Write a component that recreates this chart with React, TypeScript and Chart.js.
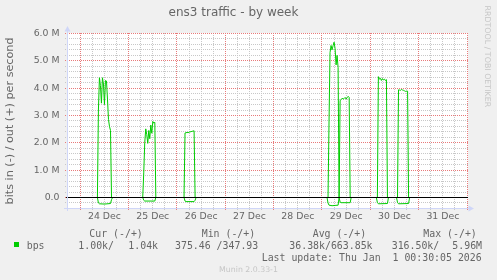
import React, { useEffect, useRef } from "react";
import { Chart, registerables } from "chart.js";

Chart.register(...registerables);

// ---------------- data ----------------
const chartTitle = "ens3 traffic - by week";
const yAxisTitle = "bits in (-) / out (+) per second";

// x values are hours since 24 Dec 00:00
const xRangeHours = [-6.6, 192];
const dayLabelHours = [12, 36, 60, 84, 108, 132, 156, 180];
const dayLabels = ["24 Dec", "25 Dec", "26 Dec", "27 Dec", "28 Dec", "29 Dec", "30 Dec", "31 Dec"];

// y values are Mbit/s
const yRangeMbps = [-0.4, 6];
const yTickValues = [0, 1, 2, 3, 4, 5, 6];
const yTickLabels = ["0.0", "1.0 M", "2.0 M", "3.0 M", "4.0 M", "5.0 M", "6.0 M"];

// "out" series (+)
const outHours = [
  -6.5, 8.5, 9.0, 9.5, 10.0, 10.5, 11.0, 11.5, 12.0, 12.5, 13.0, 13.5, 14.0, 14.5, 15.0, 15.5,
  31.0, 31.5, 32.0, 32.5, 33.0, 33.5, 34.0, 34.5, 35.0, 35.5, 36.0, 36.5, 37.0, 37.5,
  51.5, 52.0, 52.5, 53.0, 53.5, 54.0, 54.5, 55.0, 55.5, 56.0, 56.5, 57.0,
  123.0, 123.5, 124.0, 124.5, 125.0, 125.5, 126.0, 126.5, 127.0, 127.5, 128.0, 128.5,
  129.0, 129.5, 130.0, 130.5, 131.0, 131.5, 132.0, 132.5, 133.0, 133.5, 134.0,
  147.5, 148.0, 148.5, 149.0, 149.5, 150.0, 150.5, 151.0, 151.5, 152.0, 152.5,
  157.5, 158.0, 158.5, 159.0, 159.5, 160.0, 160.5, 161.0, 161.5, 162.0, 162.5, 163.0,
  192.0,
];
const outMbps = [
  0, 0, 3.2, 4.38, 4.1, 3.45, 4.38, 4.15, 3.4, 4.28, 4.26, 3.6, 2.85, 2.6, 2.45, 0,
  0, 0.9, 2.0, 2.51, 2.3, 1.98, 2.45, 2.15, 2.65, 2.35, 2.78, 2.72, 2.75, 0,
  0, 2.36, 2.37, 2.38, 2.37, 2.39, 2.4, 2.41, 2.42, 2.43, 2.44, 0,
  0, 2.8, 5.3, 5.56, 5.4, 5.55, 5.68, 5.45, 4.85, 5.2, 4.75, 0,
  3.55, 3.58, 3.63, 3.6, 3.62, 3.66, 3.6, 3.65, 3.7, 3.66, 0,
  0, 4.42, 4.33, 4.36, 4.28, 4.35, 4.3, 4.33, 4.28, 4.31, 0,
  0, 3.94, 3.93, 3.92, 3.95, 3.93, 3.92, 3.9, 3.88, 3.89, 3.89, 0,
  0,
];

// "in" series (-)
const inHours = [
  -6.5, 8.5, 9.0, 9.5, 12.0, 15.0, 15.5, 16.0,
  31.0, 31.5, 32.0, 37.0, 37.5,
  51.5, 52.0, 52.5, 56.5, 57.0, 57.5,
  122.5, 123.0, 123.5, 125.0, 126.5, 128.0, 128.5,
  129.0, 129.5, 134.0, 134.5,
  147.0, 147.5, 148.0, 152.5, 153.0,
  157.0, 157.5, 158.0, 163.0, 163.5,
  192.0,
];
const inMbps = [
  0, 0, -0.2, -0.23, -0.24, -0.22, -0.08, 0,
  0, -0.1, -0.13, -0.13, 0,
  0, -0.13, -0.15, -0.15, -0.1, 0,
  0, -0.2, -0.28, -0.3, -0.29, -0.28, 0,
  -0.17, -0.19, -0.19, 0,
  0, -0.18, -0.23, -0.22, 0,
  0, -0.18, -0.23, -0.22, 0,
  0,
];

const seriesName = "bps";
const legendHeaders = ["Cur (-/+)", "Min (-/+)", "Avg (-/+)", "Max (-/+)"];
const legendValues = ["1.00k/", "1.04k", "375.46 /347.93", "36.38k/663.85k", "316.50k/", "5.96M"];
const lastUpdate = "Last update: Thu Jan  1 00:30:05 2026";
const watermark = "RRDTOOL / TOBI OETIKER";
const versionText = "Munin 2.0.33-1";

// ---------------- styling ----------------
const LINE_GREEN = "#00cc00";
const FONT_COLOR = "#666666";
const AXIS_COLOR = "#CFD6F8";
const MINOR_GRID = "rgb(200,200,200)";
const MAJOR_GRID = "rgb(232,122,122)";
const SANS = "'DejaVu Sans', sans-serif";
const MONO = "'DejaVu Sans Mono', monospace";

const isMultiple = (v: number, step: number) => {
  const r = v / step;
  return Math.abs(r - Math.round(r)) < 1e-6;
};

// 1px dotted lines (1 on / 1 off), like rrdtool's grid
const dottedH = (ctx: CanvasRenderingContext2D, x1: number, x2: number, y: number) => {
  for (let x = x1; x <= x2; x += 2) ctx.fillRect(x, y, 1, 1);
};
const dottedV = (ctx: CanvasRenderingContext2D, x: number, y1: number, y2: number) => {
  for (let y = y1; y <= y2; y += 2) ctx.fillRect(x, y, 1, 1);
};

const muninPlugin = {
  id: "munin",
  beforeDraw(chart: any) {
    const { ctx, chartArea: a } = chart;
    ctx.save();
    ctx.fillStyle = "#f0f0f0";
    ctx.fillRect(0, 0, chart.width, chart.height);
    ctx.fillStyle = "#ffffff";
    const t = Math.floor(a.top);
    ctx.fillRect(Math.round(a.left), t, Math.round(a.right) - Math.round(a.left) + 1, Math.floor(a.bottom) - t + 1);
    ctx.restore();
  },
  beforeDatasetsDraw(chart: any) {
    // grid placed through the chart's own scales and ticks
    const { ctx, chartArea: a, scales } = chart;
    const xs = scales.x;
    const ys = scales.y;
    const top = Math.floor(a.top);
    const bottom = Math.floor(a.bottom);
    const left = Math.round(a.left);
    const right = Math.round(a.right);
    const xTicks: number[] = xs.ticks.map((t: any) => t.value);
    const yTicks: number[] = ys.ticks.map((t: any) => t.value);
    ctx.save();
    for (const major of [false, true]) {
      ctx.fillStyle = major ? MAJOR_GRID : MINOR_GRID;
      xTicks.forEach((v) => {
        if (isMultiple(v, 24) !== major) return;
        const px = Math.floor(xs.getPixelForValue(v));
        dottedV(ctx, px, top, bottom + 2);
      });
      yTicks.forEach((v) => {
        if (isMultiple(v, 1) !== major) return;
        const py = Math.floor(ys.getPixelForValue(v));
        dottedH(ctx, left - 2, right, py);
      });
    }
    ctx.restore();
  },
  afterDatasetsDraw(chart: any) {
    const { ctx, chartArea: a } = chart;
    const y0 = Math.floor(chart.scales.y.getPixelForValue(0));
    ctx.save();
    ctx.fillStyle = "#000000";
    ctx.fillRect(Math.round(a.left) - 1, y0, Math.round(a.right) - Math.round(a.left) + 2, 1);
    ctx.restore();
  },
  afterDraw(chart: any) {
    const { ctx, chartArea: a } = chart;
    ctx.save();
    // axes with arrows
    ctx.fillStyle = AXIS_COLOR;
    const ax = Math.round(a.left);
    const ay = Math.floor(a.bottom);
    const top = Math.floor(a.top);
    const right = Math.round(a.right);
    ctx.fillRect(ax, top - 3, 1, ay - top + 6);
    ctx.fillRect(ax - 3, ay, right - ax + 6, 1);
    ctx.beginPath();
    ctx.moveTo(ax - 2.5, top - 1.5);
    ctx.lineTo(ax + 3.5, top - 1.5);
    ctx.lineTo(ax + 0.5, top - 7);
    ctx.closePath();
    ctx.fill();
    ctx.beginPath();
    ctx.moveTo(right + 1.5, ay - 2.5);
    ctx.lineTo(right + 1.5, ay + 3.5);
    ctx.lineTo(right + 7, ay + 0.5);
    ctx.closePath();
    ctx.fill();

    // vertical watermark
    ctx.save();
    ctx.translate(485.3, 5.5);
    ctx.rotate(Math.PI / 2);
    ctx.font = `7.9px ${SANS}`;
    ctx.fillStyle = "#c6c6c6";
    ctx.textAlign = "left";
    ctx.textBaseline = "alphabetic";
    ctx.fillText(watermark, 0, 0);
    ctx.restore();

    // legend
    ctx.textAlign = "left";
    ctx.textBaseline = "alphabetic";
    ctx.font = `9.9px ${MONO}`;
    ctx.fillStyle = FONT_COLOR;
    const headerX = [89.3, 201.7, 312.7, 423.3];
    legendHeaders.forEach((t, i) => ctx.fillText(t, headerX[i], 237));
    ctx.fillStyle = LINE_GREEN;
    ctx.fillRect(14, 242, 5, 5);
    ctx.fillStyle = FONT_COLOR;
    ctx.fillText(seriesName, 26.7, 249);
    const valueX = [78.3, 128.3, 175, 289.3, 391.7, 452.3];
    legendValues.forEach((t, i) => ctx.fillText(t, valueX[i], 249));
    ctx.fillText(lastUpdate, 261.7, 261);

    ctx.font = `7.8px ${SANS}`;
    ctx.fillStyle = "#c6c6c6";
    ctx.textAlign = "center";
    ctx.fillText(versionText, 248.5, 271.5);
    ctx.restore();
  },
};

export default function App() {
  const ref = useRef<HTMLCanvasElement>(null);

  useEffect(() => {
    document.body.style.margin = "0";
    const canvas = ref.current;
    if (!canvas) return;

    const chart = new Chart(canvas, {
      type: "line",
      data: {
        datasets: [
          {
            label: "in",
            data: inHours.map((h, i) => ({ x: h, y: inMbps[i] })),
            borderColor: LINE_GREEN,
            borderWidth: 1,
            pointRadius: 0,
            tension: 0,
            fill: false,
          },
          {
            label: "out",
            data: outHours.map((h, i) => ({ x: h, y: outMbps[i] })),
            borderColor: LINE_GREEN,
            borderWidth: 1,
            pointRadius: 0,
            tension: 0,
            fill: false,
          },
        ],
      },
      options: {
        responsive: false,
        animation: false,
        events: [],
        layout: { padding: { left: 0, right: 30, top: 0, bottom: 51.56 } },
        plugins: {
          legend: { display: false },
          tooltip: { enabled: false },
          title: {
            display: true,
            text: chartTitle,
            color: FONT_COLOR,
            font: { family: SANS, size: 12, weight: "normal" },
            padding: { top: 5.6, bottom: 13.44 },
          },
        },
        scales: {
          x: {
            type: "linear",
            min: xRangeHours[0],
            max: xRangeHours[1],
            afterFit: (s: any) => {
              s.height = 20;
            },
            afterBuildTicks: (s: any) => {
              const t = [];
              for (let h = 0; h <= xRangeHours[1]; h += 6) t.push({ value: h });
              s.ticks = t;
            },
            grid: { display: false, drawTicks: false },
            border: { display: false },
            ticks: {
              autoSkip: false,
              maxRotation: 0,
              padding: 3,
              color: FONT_COLOR,
              font: { family: SANS, size: 9.33 },
              callback: (v: any) => {
                const i = dayLabelHours.findIndex((h) => Math.abs(h - Number(v)) < 1e-6);
                return i >= 0 ? dayLabels[i] : "";
              },
            },
          },
          y: {
            type: "linear",
            min: yRangeMbps[0],
            max: yRangeMbps[1],
            afterFit: (s: any) => {
              s.width = 67;
            },
            afterBuildTicks: (s: any) => {
              const t = [];
              for (let i = -2; i <= 30; i++) t.push({ value: Math.round(i * 2) / 10 });
              s.ticks = t;
            },
            grid: { display: false, drawTicks: false },
            border: { display: false },
            ticks: {
              autoSkip: false,
              padding: 7.5,
              color: FONT_COLOR,
              font: { family: SANS, size: 9.33 },
              callback: (v: any) => {
                const i = yTickValues.findIndex((y) => Math.abs(y - Number(v)) < 1e-6);
                return i >= 0 ? yTickLabels[i] : "";
              },
            },
            title: {
              display: true,
              text: yAxisTitle,
              color: FONT_COLOR,
              font: { family: SANS, size: 11.2 },
              padding: { top: 3.5, bottom: 0 },
            },
          },
        },
      },
      plugins: [muninPlugin],
    } as any);

    return () => chart.destroy();
  }, []);

  return (
    <div style={{ width: 497, height: 280, background: "#f0f0f0" }}>
      <canvas ref={ref} width={497} height={280} style={{ display: "block" }} />
    </div>
  );
}
